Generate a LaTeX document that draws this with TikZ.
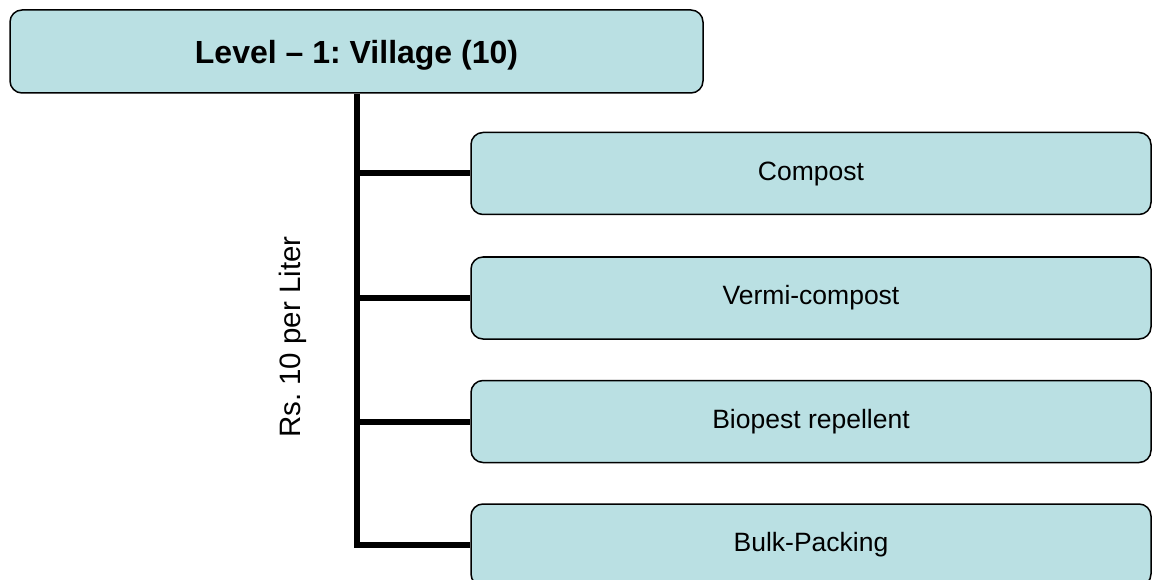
\documentclass[tikz,border=0pt]{standalone}
\usepackage{fontspec}
\setmainfont{Liberation Sans}
\definecolor{boxfill}{RGB}{186,224,227}
\begin{document}
\frenchspacing
\begin{tikzpicture}[x=1pt,y=-1pt,
  box/.style={draw=black,fill=boxfill,line width=1.5pt,rounded corners=12pt,inner sep=0pt,anchor=center},
  topbox/.style={box,minimum width=693pt,minimum height=83pt,text depth=0pt,font=\fontsize{32}{38}\selectfont\bfseries},
  childbox/.style={box,minimum width=680pt,minimum height=82pt,font=\fontsize{26.5}{32}\selectfont},
  link/.style={line width=6pt,black}]
\useasboundingbox (0,0) rectangle (1154,580);
\node[topbox] (top) at (356.5,51.5) {Level -- 1: Village (10)};
\node[childbox] (compost) at (811,173.5) {Compost};
\node[childbox] (vermi) at (811,298) {Vermi-compost};
\node[childbox] (biopest) at (811,421.5) {Biopest repellent};
\node[childbox] (bulk) at (811,545) {Bulk-Packing};
\draw[link] (top.south) -- (top.south |- bulk.west) -- (bulk.west);
\draw[link] (top.south |- compost.west) -- (compost.west);
\draw[link] (top.south |- vermi.west) -- (vermi.west);
\draw[link] (top.south |- biopest.west) -- (biopest.west);
\node[rotate=90,font=\fontsize{29.5}{35}\selectfont,inner sep=0pt] (price) at (292.5,337) {Rs. 10 per Liter};
\end{tikzpicture}
\end{document}
